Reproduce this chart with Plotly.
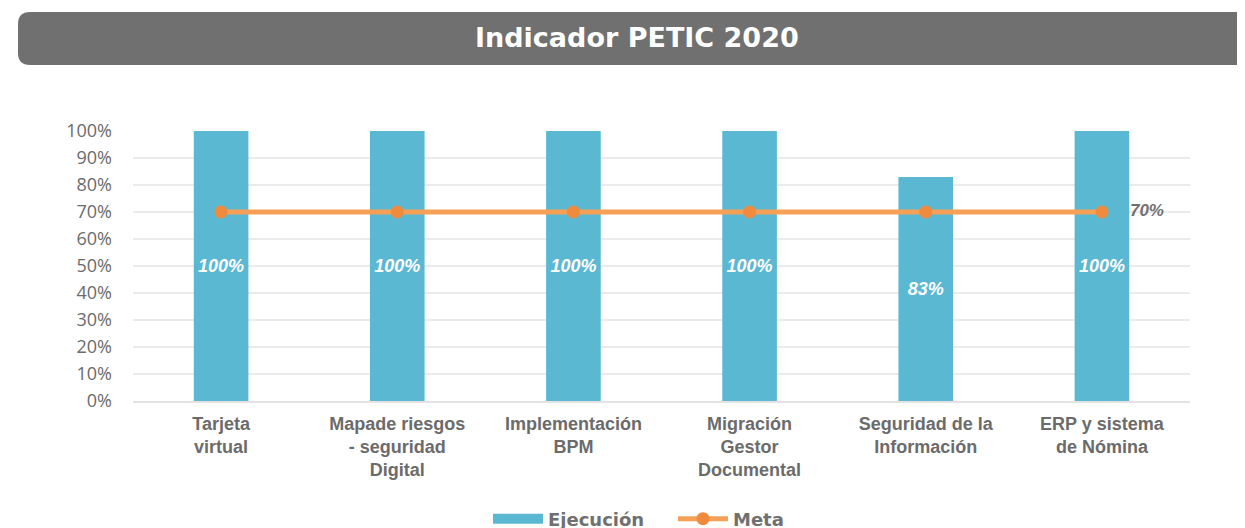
import plotly.graph_objects as go

categories = ["Tarjeta<br>virtual", "Mapade riesgos<br>- seguridad<br>Digital", "Implementación<br>BPM",
              "Migración<br>Gestor<br>Documental", "Seguridad de la<br>Información", "ERP y sistema<br>de Nómina"]
ejecucion = [1.00, 1.00, 1.00, 1.00, 0.83, 1.00]
meta = [0.70, 0.70, 0.70, 0.70, 0.70, 0.70]
ytick_vals = [0, 0.1, 0.2, 0.3, 0.4, 0.5, 0.6, 0.7, 0.8, 0.9, 1.0]
ytick_text = ["0%", "10%", "20%", "30%", "40%", "50%", "60%", "70%", "80%", "90%", "100%"]

W, H = 1245, 528
OFF = 8  # page body margin offset
pw, ph = 1057, 270
L, T = 133 - OFF, 131 - OFF
R = W - L - pw
B = H - T - ph

def px_x(x):
    return (x - OFF - L) / pw

def px_y(y):
    return (T + ph - (y - OFF)) / ph

BLUE = "#5BB8D2"
fig = go.Figure()
fig.add_trace(go.Bar(
    x=categories, y=ejecucion, name="Ejecución", showlegend=False,
    marker=dict(color=BLUE, line=dict(width=0)), width=0.31,
    text=[f"{round(v*100)}%" for v in ejecucion], textposition="inside",
    insidetextanchor="middle", textangle=0,
    textfont=dict(color="white", size=18, family="Liberation Sans", weight="bold", style="italic"),
    cliponaxis=False,
))
# legend proxy for bar series (wide swatch)
fig.add_trace(go.Scatter(
    x=[None], y=[None], name="Ejecución", mode="lines",
    line=dict(color=BLUE, width=10), showlegend=True,
))
meta_text = [""] * (len(meta) - 1) + [f"    {round(meta[-1]*100)}%"]
fig.add_trace(go.Scatter(
    x=categories, y=meta, name="Meta", mode="lines+markers+text",
    line=dict(color="#F6A055", width=5),
    marker=dict(color="#F08A3C", size=13),
    text=meta_text, textposition="middle right",
    textfont=dict(color="#707070", size=17, family="Liberation Sans", weight="bold", style="italic"),
    cliponaxis=False,
))

# banner
x0, x1 = px_x(18), px_x(1270)
y0, y1 = px_y(65), px_y(12)
rx, ry = 12 / pw, 12 / ph
path = (f"M {x0+rx},{y1} L {x1},{y1} L {x1},{y0} L {x0+rx},{y0} "
        f"Q {x0},{y0} {x0},{y0+ry} L {x0},{y1-ry} Q {x0},{y1} {x0+rx},{y1} Z")
fig.add_shape(type="path", path=path, xref="paper", yref="paper",
              fillcolor="#707070", line=dict(width=0), layer="above")
fig.add_annotation(text="<b>Indicador PETIC 2020</b>", x=px_x(637), y=px_y(38),
                   xref="paper", yref="paper", showarrow=False,
                   font=dict(color="white", size=27, family="DejaVu Sans"),
                   xanchor="center", yanchor="middle")

fig.update_layout(
    width=W, height=H,
    margin=dict(l=L, r=R, t=T, b=B, autoexpand=False),
    paper_bgcolor="white", plot_bgcolor="white",
    showlegend=True,
    legend=dict(orientation="h", x=px_x(488), xanchor="left", y=px_y(519), yanchor="middle",
                font=dict(color="#707070", size=18, family="DejaVu Sans", weight="bold"),
                traceorder="normal", itemwidth=50, entrywidth=120, entrywidthmode="pixels"),
    bargap=0.69,
)
fig.update_xaxes(showline=True, linecolor="#e3e3e3", linewidth=2, ticks="", automargin=False,
                 ticklabelstandoff=5,
                 tickfont=dict(color="#6b6b6b", size=18, family="Liberation Sans", weight="bold"))
fig.update_yaxes(range=[0, 1.0], tickvals=ytick_vals, ticktext=ytick_text, automargin=False,
                 showgrid=True, gridcolor="#ebebeb", gridwidth=2, zeroline=False,
                 ticklabelstandoff=20,
                 tickfont=dict(color="#6b6b6b", size=18, family="Open Sans"), ticks="", ticklen=0)

fig.write_html("out.html")
